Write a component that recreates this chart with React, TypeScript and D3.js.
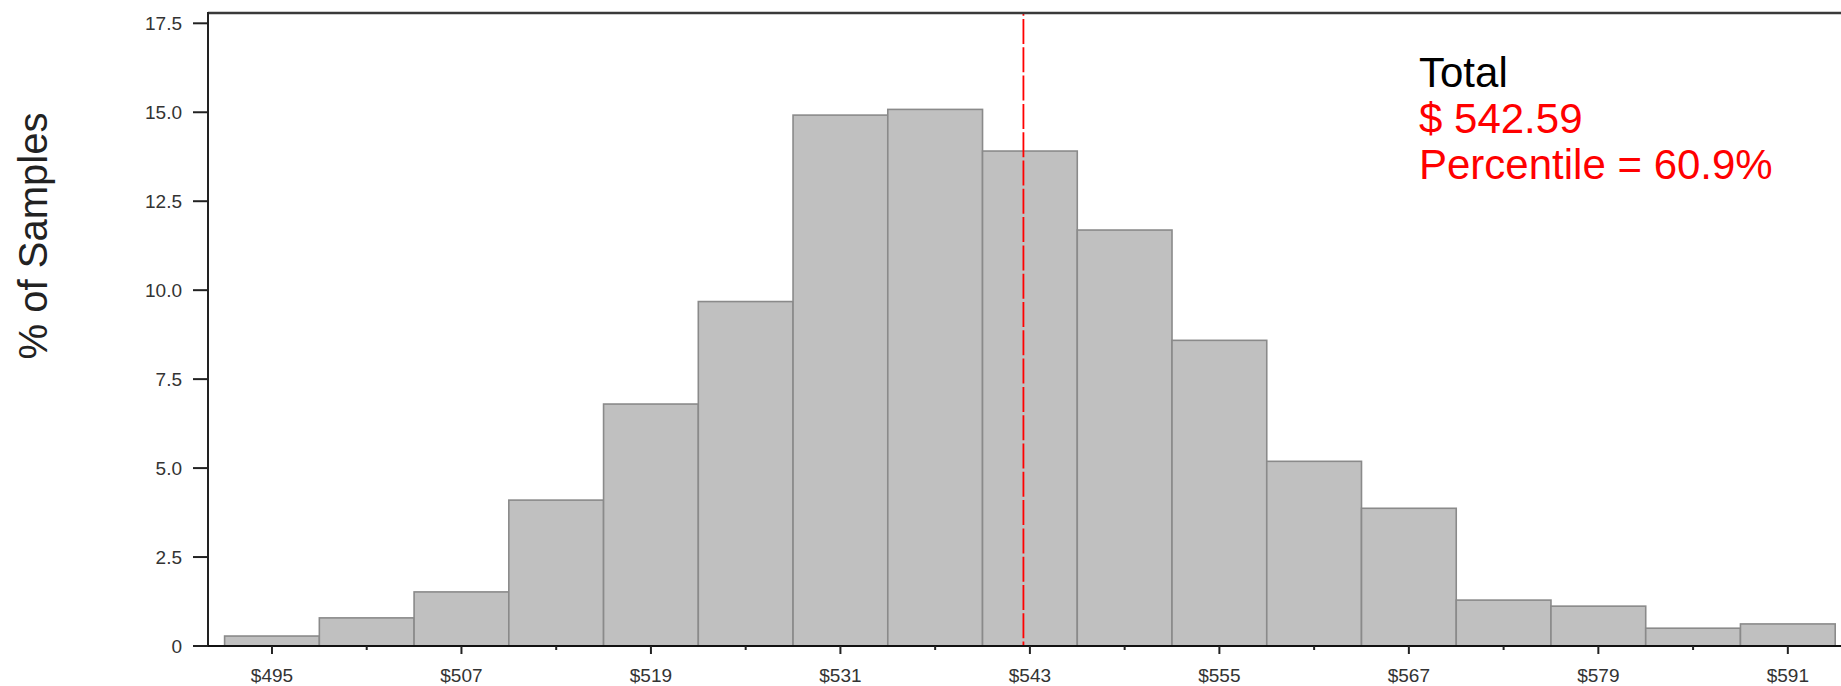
import React from "react";
import * as d3 from "d3";

// ---- data ----
const binLows: number[] = [492, 498, 504, 510, 516, 522, 528, 534, 540, 546, 552, 558, 564, 570, 576, 582, 588];
const binWidth = 6;
const pctSamples: number[] = [0.28, 0.79, 1.52, 4.10, 6.80, 9.68, 14.92, 15.08, 13.91, 11.69, 8.59, 5.19, 3.87, 1.29, 1.12, 0.50, 0.62];
const xMajorTicks: number[] = [495, 507, 519, 531, 543, 555, 567, 579, 591];
const xMinorTicks: number[] = [501, 513, 525, 537, 549, 561, 573, 585];
const yTicks: number[] = [0, 2.5, 5, 7.5, 10, 12.5, 15, 17.5];
const markerValue = 542.59;
const markerPercentile = 60.9;
const seriesName = "Total";
const yAxisTitle = "% of Samples";

// ---- layout ----
const W = 1841;
const H = 686;
const plotLeft = 208;
const plotTop = 13;
const plotBottom = 646;
const plotRight = 1860;

export default function App() {
  const x = d3.scaleLinear().domain([492, 594]).range([224.6, 1835.2]);
  const y = d3.scaleLinear().domain([0, 17.5]).range([plotBottom, 23.3]);
  const fmtY = (v: number) => (v === 0 ? "0" : d3.format(".1f")(v));
  const fmtX = (v: number) => "$" + d3.format("d")(v);
  const font = "'Liberation Sans', Arial, sans-serif";

  return (
    <div style={{ position: "absolute", left: 0, top: 0, width: W, height: H, background: "#fff" }}>
      <svg width={W} height={H} style={{ display: "block" }}>
        <rect x={0} y={0} width={W} height={H} fill="#fff" />
        {/* bars */}
        <g>
          {pctSamples.map((v, i) => (
            <rect
              key={i}
              x={x(binLows[i])}
              y={y(v)}
              width={x(binLows[i] + binWidth) - x(binLows[i])}
              height={plotBottom - y(v)}
              fill="#c0c0c0"
              stroke="#8a8a8a"
              strokeWidth={1.6}
            />
          ))}
        </g>
        {/* marker line */}
        <line
          x1={x(markerValue)}
          x2={x(markerValue)}
          y1={plotTop}
          y2={plotBottom}
          stroke="#ff0000"
          strokeWidth={1.8}
          strokeDasharray="25,3.3"
          strokeDashoffset={-6}
        />
        {/* frame */}
        <line x1={plotLeft} x2={plotRight} y1={plotTop} y2={plotTop} stroke="#3a3a3a" strokeWidth={2.5} />
        <line x1={plotLeft} x2={plotLeft} y1={plotTop - 1} y2={plotBottom} stroke="#222" strokeWidth={2} />
        <line x1={plotLeft - 15} x2={plotRight} y1={plotBottom} y2={plotBottom} stroke="#111" strokeWidth={2} />
        {/* y ticks */}
        {yTicks.map((t) => (
          <g key={"y" + t}>
            <line x1={plotLeft - 15} x2={plotLeft} y1={y(t)} y2={y(t)} stroke="#222" strokeWidth={2} />
            <text
              x={182}
              y={y(t)}
              dy="0.35em"
              textAnchor="end"
              fontFamily={font}
              fontSize={19}
              fill="#333"
            >
              {fmtY(t)}
            </text>
          </g>
        ))}
        {/* x ticks */}
        {xMajorTicks.map((t) => (
          <g key={"x" + t}>
            <line x1={x(t)} x2={x(t)} y1={plotBottom} y2={plotBottom + 8} stroke="#222" strokeWidth={2} />
            <text x={x(t)} y={682} textAnchor="middle" fontFamily={font} fontSize={19} fill="#333">
              {fmtX(t)}
            </text>
          </g>
        ))}
        {xMinorTicks.map((t) => (
          <line key={"m" + t} x1={x(t)} x2={x(t)} y1={plotBottom} y2={plotBottom + 4} stroke="#222" strokeWidth={2} />
        ))}
        {/* y axis title */}
        <text
          transform={`translate(47,236) rotate(-90)`}
          textAnchor="middle"
          fontFamily={font}
          fontSize={40}
          fill="#222"
        >
          {yAxisTitle}
        </text>
        {/* annotation */}
        <text x={1419} y={87} fontFamily={font} fontSize={42} fill="#000">
          {seriesName}
        </text>
        <text x={1419} y={133} fontFamily={font} fontSize={42} fill="#ff0000">
          {"$ " + d3.format(".2f")(markerValue)}
        </text>
        <text x={1419} y={179} fontFamily={font} fontSize={42} fill="#ff0000">
          {"Percentile = " + markerPercentile + "%"}
        </text>
      </svg>
    </div>
  );
}
